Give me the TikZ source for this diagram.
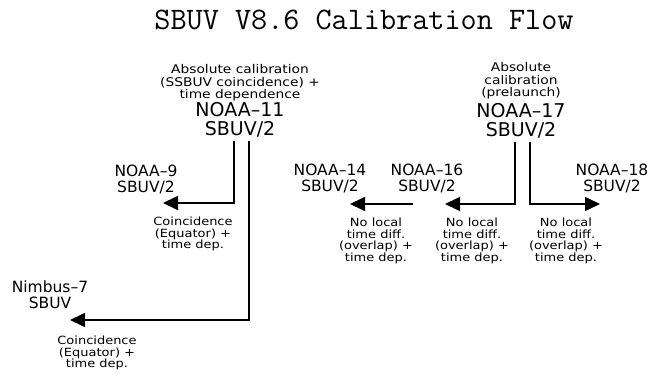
\documentclass[tikz,border=0pt]{standalone}
\usepackage{fontspec}
\newfontfamily\lblfont{DejaVu Sans}
\newfontfamily\lblwide[FakeStretch=1.15]{DejaVu Sans}
\usetikzlibrary{arrows.meta}
\begin{document}
\begin{tikzpicture}[x=1pt,y=-1pt,
  titletxt/.style={font=\ttfamily\addfontfeature{FakeBold=1.2}\fontsize{31.3}{32}\selectfont, inner sep=0pt, anchor=base},
  smalltop/.style={font=\lblwide\fontsize{12}{12.5}\selectfont, align=center, inner sep=0pt},
  bigtop/.style={font=\lblfont\fontsize{19}{19}\selectfont, align=center, inner sep=0pt},
  biglbl/.style={font=\lblfont\fontsize{15.5}{16}\selectfont, align=center, inner sep=0pt},
  smalllbl/.style={font=\lblwide\fontsize{11.3}{11.6}\selectfont, align=center, inner sep=0pt},
  conn/.style={line width=1.7pt, -{Triangle[length=15pt,width=14pt]}}]
\useasboundingbox (0,0) rectangle (656,382);
\node[titletxt] (title) at (364,30) {SBUV V8.6 Calibration Flow};

\node[smalltop] (a11) at (240,83) {Absolute calibration\\(SSBUV coincidence) +\\time dependence};
\node[bigtop] (n11) at (240,120) {NOAA–11\\SBUV/2};
\node[smalltop] (a17) at (521,81) {Absolute\\calibration\\(prelaunch)};
\node[bigtop] (n17) at (521,121) {NOAA–17\\SBUV/2};

\node[biglbl] (n9) at (146,179) {NOAA–9\\SBUV/2};
\node[biglbl] (n7) at (50,294.5) {Nimbus–7\\SBUV};
\node[biglbl] (n14) at (330,178.5) {NOAA–14\\SBUV/2};
\node[biglbl] (n16) at (427,178.5) {NOAA–16\\SBUV/2};
\node[biglbl] (n18) at (612,178.5) {NOAA–18\\SBUV/2};

\node[smalllbl] (c9) at (193,234) {Coincidence\\(Equator) +\\time dep.};
\node[smalllbl] (c7) at (97,353) {Coincidence\\(Equator) +\\time dep.};
\node[smalllbl] (c14) at (376,241) {No local\\time diff.\\(overlap) +\\time dep.};
\node[smalllbl] (c16) at (472,241) {No local\\time diff.\\(overlap) +\\time dep.};
\node[smalllbl] (c18) at (566,241) {No local\\time diff.\\(overlap) +\\time dep.};

\coordinate (t9) at (163,203);
\coordinate (t7) at (70,320);
\coordinate (t16) at (445,204);
\coordinate (t18) at (600,204);
\coordinate (s14) at (413,204);
\coordinate (t14) at (350,204);

\draw[conn] ([xshift=-6pt,yshift=-3pt]n11.south) |- (t9);
\draw[conn] ([xshift=9pt,yshift=-3pt]n11.south) |- (t7);
\draw[conn] ([xshift=-6pt,yshift=-3pt]n17.south) |- (t16);
\draw[conn] ([xshift=9pt,yshift=-3pt]n17.south) |- (t18);
\draw[conn] (s14) -- (t14);
\end{tikzpicture}
\end{document}
